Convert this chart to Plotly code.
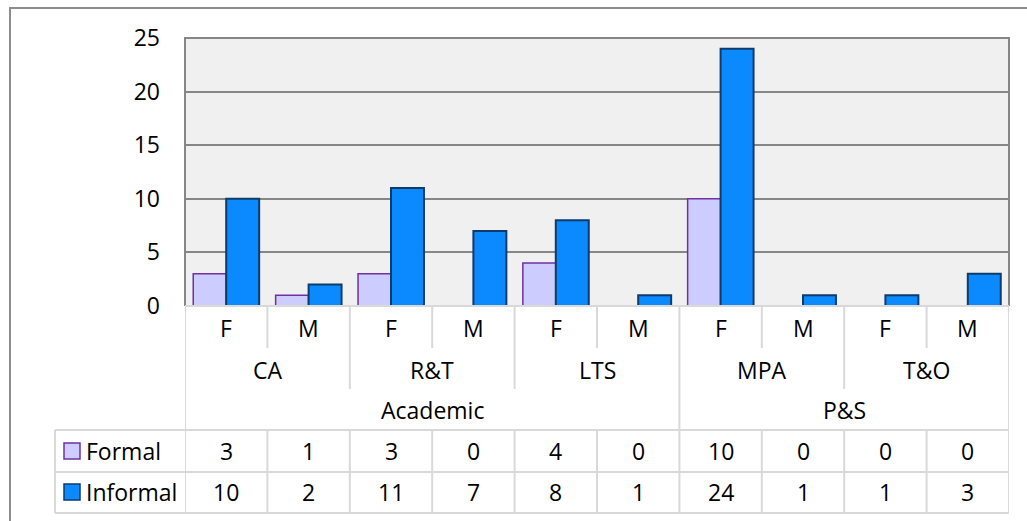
import plotly.graph_objects as go

# Chart data
columns = ["F", "M", "F", "M", "F", "M", "F", "M", "F", "M"]
units = ["CA", "R&T", "LTS", "MPA", "T&O"]
divisions = ["Academic", "P&S"]
division_units = [3, 2]          # number of units inside each division
series_names = ["Formal", "Informal"]
formal = [3, 1, 3, 0, 4, 0, 10, 0, 0, 0]
informal = [10, 2, 11, 7, 8, 1, 24, 1, 1, 3]
y_ticks = [0, 5, 10, 15, 20, 25]

# Layout geometry (pixels)
W, H = 1027, 521
L, R, T, B = 185, 1009, 38, 306

FONT = "Open Sans"
FS = 23
TXT = "#000000"
GRID = "#868686"
SEP = "#d9d9d9"
FORMAL_FILL, FORMAL_LINE = "#ccccff", "#7030a0"
INFORMAL_FILL, INFORMAL_LINE = "#0a8afe", "#0f3b6b"


def px_x(px):
    return (px - L) / (R - L)


def px_y(py):
    return (B - py) / (B - T)


n = len(columns)
xs = list(range(n))

fig = go.Figure()
fig.add_trace(go.Bar(
    x=xs, y=formal, name=series_names[0],
    marker=dict(color=FORMAL_FILL,
                line=dict(color=FORMAL_LINE,
                          width=[1.5 if v else 0 for v in formal])),
))
fig.add_trace(go.Bar(
    x=xs, y=informal, name=series_names[1],
    marker=dict(color=INFORMAL_FILL,
                line=dict(color=INFORMAL_LINE,
                          width=[2 if v else 0 for v in informal])),
))

shapes = []
annotations = []


def hline(py, px0, px1, color=SEP, width=2):
    shapes.append(dict(type="line", xref="paper", yref="paper",
                       x0=px_x(px0), x1=px_x(px1), y0=px_y(py), y1=px_y(py),
                       line=dict(color=color, width=width), layer="above"))


def vline(xdata, py0, py1, color=SEP, width=2):
    shapes.append(dict(type="line", xref="x", yref="paper",
                       x0=xdata, x1=xdata, y0=px_y(py0), y1=px_y(py1),
                       line=dict(color=color, width=width), layer="above"))


def label(xv, py, text, xref="x", xanchor="center"):
    annotations.append(dict(x=xv, y=px_y(py), xref=xref, yref="paper",
                            text=text, showarrow=False, xanchor=xanchor,
                            yanchor="middle",
                            font=dict(family=FONT, size=FS, color=TXT)))


# Outer chart frame (runs past the right and bottom edges)
shapes.append(dict(type="rect", xref="paper", yref="paper",
                   x0=px_x(10), x1=px_x(1040), y0=px_y(8), y1=px_y(540),
                   line=dict(color="#8c8c8c", width=2), fillcolor="rgba(0,0,0,0)",
                   layer="below"))

# Plot area frame (left, top, right)
shapes.append(dict(type="path", xref="paper", yref="paper",
                   path="M 0 0 L 0 1 L 1 1 L 1 0",
                   line=dict(color=GRID, width=2), layer="above"))

# Category-axis table separators
unit_edges = set(range(0, n + 1, 2))
div_edges = set()
acc = 0
for cnt in division_units:
    acc += cnt * 2
    div_edges.add(acc)

for k in range(1, n):
    if k in div_edges:
        end = 430
    elif k in unit_edges:
        end = 389
    else:
        end = 348
    vline(k - 0.5, 306, end)
    vline(k - 0.5, 430, 513)
vline(-0.5, 306, 513)
vline(n - 0.5, 306, 513)
shapes.append(dict(type="line", xref="paper", yref="paper",
                   x0=px_x(55), x1=px_x(55), y0=px_y(430), y1=px_y(513),
                   line=dict(color=SEP, width=2), layer="above"))
hline(306, L, R)
for py in (430, 472, 513):
    hline(py, 55, R)

# Category labels
for i, c in enumerate(columns):
    label(i, 328, c)
for j, u in enumerate(units):
    label(2 * j + 0.5, 370, u)
start = 0
for d, cnt in zip(divisions, division_units):
    span = cnt * 2
    label(start + (span - 1) / 2, 410, d)
    start += span

# Data table rows
row_y = [451, 492]
for vals, py in zip([formal, informal], row_y):
    for i, v in enumerate(vals):
        label(i, py, str(v))

# Legend keys inside the data table
keys = [(FORMAL_FILL, FORMAL_LINE), (INFORMAL_FILL, INFORMAL_LINE)]
for name, (fill, edge), py in zip(series_names, keys, row_y):
    shapes.append(dict(type="rect", xref="paper", yref="paper",
                       x0=px_x(64), x1=px_x(80), y0=px_y(py - 8), y1=px_y(py + 8),
                       fillcolor=fill, line=dict(color=edge, width=1.5),
                       layer="above"))
    label(px_x(84), py, name, xref="paper", xanchor="left")

fig.update_layout(
    width=W, height=H,
    margin=dict(l=L, r=W - R, t=T, b=H - B, pad=0),
    paper_bgcolor="#ffffff",
    plot_bgcolor="#f0f0f0",
    barmode="group", bargap=0.2, bargroupgap=0,
    showlegend=False,
    font=dict(family=FONT, size=FS, color=TXT),
    shapes=shapes,
    annotations=annotations,
    xaxis=dict(range=[-0.5, n - 0.5], showticklabels=False, showgrid=False,
               zeroline=False, showline=False, fixedrange=True),
    yaxis=dict(range=[0, 25], tickvals=y_ticks, showgrid=True, gridcolor=GRID,
               gridwidth=2, zeroline=False, showline=False,
               ticks="", ticklabelstandoff=24,
               tickfont=dict(family=FONT, size=FS, color=TXT), fixedrange=True),
)

fig.write_html("out.html")
